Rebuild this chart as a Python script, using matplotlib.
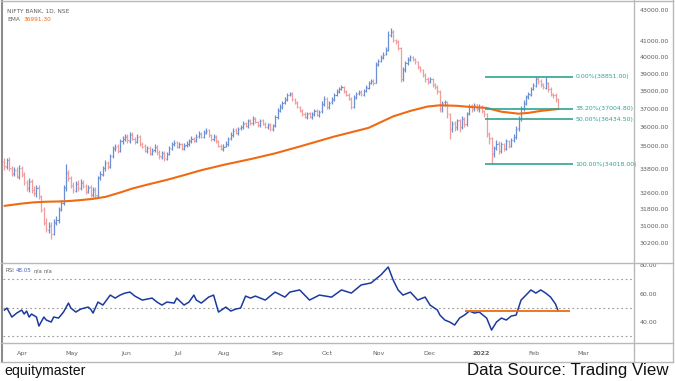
import matplotlib
matplotlib.use("Agg")
import matplotlib.pyplot as plt
from matplotlib.lines import Line2D
from matplotlib.ticker import FixedLocator, NullLocator
import numpy as np

# daily OHLC, NIFTY BANK (bar index 0 = first bar)
opens = [
    34150, 33900, 34250, 33800, 33550, 33750, 33400, 33850, 33500, 33100,
    32800, 33150, 32750, 32560, 32850, 32400, 31800, 31120, 30800, 31050,
    30620, 31180, 31270, 31790, 32080, 32850, 33600, 33300, 32950, 32700,
    33050, 32800, 33100, 32900, 32650, 32850, 32500, 32760, 32450, 33350,
    33500, 33850, 34100, 33900, 34450, 34820, 34980, 34720, 35250, 35350,
    35500, 35250, 35620, 35350, 35200, 35510, 35090, 34980, 34720, 34880,
    34560, 34770, 34930, 34660, 34400, 34620, 34310, 34560, 34830, 35090,
    35180, 34920, 35080, 34830, 35030, 35090, 35250, 35400, 35250, 35510,
    35660, 35450, 35720, 35820, 35560, 35340, 35500, 35240, 34980, 34830,
    34980, 35080, 35400, 35560, 35830, 35660, 35930, 35980, 36200, 36040,
    36370, 36200, 36480, 36260, 36100, 36370, 36160, 35980, 36150, 35880,
    36100, 36530, 36920, 37080, 37360, 37520, 37810, 37870, 37520, 37360,
    37080, 36920, 36740, 36530, 36750, 36530, 36700, 36920, 36640, 36860,
    37250, 37580, 37080, 37360, 37520, 37810, 37980, 38150, 38260, 37980,
    37810, 37580, 37080, 37640, 37870, 37970, 37810, 38040, 38210, 38490,
    38600, 38500, 39540, 39780, 39960, 40200, 40440, 41360, 41610, 41050,
    40980, 40550, 38720, 39250, 39660, 39840, 40020, 39900, 39720, 39430,
    39250, 38960, 38720, 38550, 38720, 38380, 38270, 37980, 36970, 37360,
    37360, 36700, 35870, 36210, 35980, 36370, 35980, 36480, 36150, 36750,
    37190, 36970, 37250, 36970, 37140, 36860, 36700, 35610, 35400, 34560,
    34880, 35140, 34710, 35090, 34820, 35250, 34970, 35300, 35450, 35930,
    36420, 37030, 37300, 37700, 37810, 38150, 38320, 38720, 38610, 38380,
    38210, 38490, 38150, 37810, 37810, 37550,
]
highs = [
    34330, 34350, 34380, 33950, 33900, 33880, 33990, 33950, 33640, 33220,
    33300, 33260, 32900, 32950, 32980, 32500, 31900, 31350, 31200, 31200,
    31330, 31450, 31900, 32250, 32950, 34050, 33750, 33420, 33100, 33180,
    33200, 33250, 33220, 33000, 32960, 32950, 32880, 32850, 33450, 33680,
    33950, 34250, 34200, 34580, 35000, 35100, 35080, 35350, 35520, 35620,
    35600, 35720, 35700, 35450, 35600, 35580, 35200, 35060, 34980, 34960,
    34880, 35100, 35020, 34750, 34700, 34700, 34650, 35000, 35180, 35300,
    35250, 35170, 35150, 35130, 35250, 35330, 35500, 35480, 35600, 35760,
    35740, 35820, 35950, 35900, 35640, 35600, 35580, 35320, 35100, 35060,
    35220, 35480, 35700, 35920, 35920, 36020, 36120, 36300, 36280, 36450,
    36450, 36580, 36560, 36350, 36460, 36440, 36250, 36240, 36220, 36180,
    36680, 37020, 37250, 37450, 37680, 37900, 37980, 37950, 37600, 37430,
    37150, 37000, 36820, 36850, 36830, 36850, 37000, 37000, 36950, 37420,
    37700, 37650, 37450, 37680, 37900, 38150, 38250, 38380, 38330, 38060,
    37900, 37650, 37800, 37980, 38080, 38050, 38120, 38380, 38600, 38700,
    38680, 39700, 39900, 40150, 40320, 40650, 41600, 41830, 41700, 41150,
    41050, 40620, 39400, 39750, 40000, 40150, 40100, 39980, 39800, 39500,
    39320, 39050, 38800, 38800, 38780, 38450, 38350, 38050, 37450, 37500,
    37420, 36780, 36300, 36300, 36450, 36420, 36580, 36560, 36850, 37300,
    37280, 37350, 37300, 37250, 37200, 36950, 36780, 35700, 35450, 35000,
    35300, 35250, 35200, 35150, 35350, 35320, 35400, 35600, 36050, 36600,
    37150, 37480, 37800, 37960, 38250, 38500, 38851, 38800, 38680, 38450,
    38830, 38560, 38230, 37900, 37880, 37620,
]
lows = [
    33750, 33780, 33700, 33450, 33420, 33300, 33280, 33400, 32950, 32700,
    32650, 32600, 32430, 32400, 32300, 31650, 31020, 30700, 30650, 30410,
    30550, 31050, 31150, 31700, 31980, 32700, 33150, 32800, 32600, 32620,
    32700, 32720, 32800, 32550, 32560, 32400, 32380, 32350, 32330, 33200,
    33420, 33700, 33800, 33850, 34350, 34700, 34620, 34650, 35100, 35230,
    35150, 35150, 35280, 35100, 35120, 35000, 34850, 34650, 34620, 34480,
    34480, 34680, 34530, 34300, 34320, 34200, 34230, 34480, 34750, 34980,
    34850, 34850, 34750, 34780, 34950, 35000, 35150, 35180, 35170, 35420,
    35380, 35380, 35620, 35480, 35250, 35250, 35120, 34900, 34750, 34720,
    34900, 35000, 35300, 35480, 35600, 35580, 35820, 35900, 35980, 35950,
    36120, 36120, 36200, 36020, 36000, 36080, 35920, 35900, 35800, 35800,
    36020, 36450, 36850, 37000, 37250, 37450, 37700, 37450, 37250, 37020,
    36800, 36620, 36480, 36450, 36480, 36460, 36620, 36580, 36560, 36780,
    37150, 36980, 37000, 37250, 37450, 37720, 37900, 38050, 37920, 37700,
    37480, 37000, 37020, 37550, 37780, 37750, 37750, 37950, 38150, 38400,
    38380, 38450, 39450, 39700, 39900, 40150, 40400, 41250, 40950, 40800,
    40450, 38520, 38600, 39150, 39550, 39780, 39780, 39600, 39300, 39100,
    38800, 38550, 38400, 38450, 38250, 38100, 37850, 36800, 36850, 37150,
    36500, 35350, 35700, 35800, 35850, 35700, 35900, 36000, 36050, 36650,
    36850, 36900, 36900, 36850, 36750, 36550, 35450, 35100, 34018, 34400,
    34750, 34550, 34600, 34700, 34750, 34850, 34900, 35200, 35350, 35800,
    36350, 36900, 37200, 37550, 37700, 38050, 38250, 38400, 38250, 38100,
    38150, 37950, 37700, 37600, 37400, 36980,
]
closes = [
    33920, 34230, 33820, 33570, 33720, 33420, 33820, 33520, 33070, 32820,
    33120, 32730, 32580, 32820, 32440, 31760, 31150, 30830, 31010, 30640,
    31150, 31290, 31760, 32100, 32820, 33570, 33320, 32920, 32730, 33020,
    32820, 33070, 32920, 32680, 32820, 32530, 32730, 32480, 33320, 33520,
    33820, 34070, 33920, 34430, 34850, 34950, 34740, 35220, 35370, 35480,
    35270, 35590, 35370, 35220, 35480, 35110, 34950, 34740, 34850, 34590,
    34740, 34950, 34640, 34430, 34590, 34330, 34540, 34850, 35060, 35160,
    34950, 35060, 34850, 35000, 35110, 35220, 35370, 35270, 35480, 35640,
    35480, 35690, 35800, 35590, 35370, 35480, 35220, 35000, 34850, 34950,
    35110, 35370, 35590, 35800, 35690, 35900, 36010, 36180, 36070, 36340,
    36230, 36450, 36290, 36120, 36340, 36180, 36010, 36120, 35900, 36070,
    36560, 36890, 37110, 37330, 37550, 37780, 37840, 37550, 37330, 37110,
    36890, 36720, 36560, 36720, 36560, 36720, 36890, 36670, 36830, 37280,
    37550, 37110, 37330, 37550, 37780, 38010, 38120, 38240, 38010, 37780,
    37550, 37110, 37670, 37840, 37950, 37840, 38010, 38240, 38460, 38580,
    38460, 39570, 39750, 39990, 40170, 40470, 41390, 41580, 41080, 40950,
    40590, 38690, 39280, 39630, 39870, 39990, 39870, 39750, 39400, 39280,
    38930, 38690, 38580, 38690, 38410, 38240, 38010, 37000, 37330, 37390,
    36720, 35900, 36180, 36010, 36340, 36010, 36450, 36180, 36720, 37160,
    37000, 37220, 37000, 37110, 36890, 36720, 35640, 35370, 34590, 34850,
    35110, 34740, 35060, 34850, 35220, 35000, 35270, 35480, 35900, 36450,
    37000, 37330, 37670, 37840, 38120, 38350, 38690, 38580, 38410, 38240,
    38460, 38120, 37840, 37780, 37550, 37000,
]

# EMA line (bar index, value)
ema_idx = [0, 7, 12, 17, 21, 24, 27, 31, 36, 41, 47, 52, 59, 66, 73, 80, 90, 100,
           110, 120, 134, 148, 158, 165, 172, 177, 184, 189, 196, 202, 209, 213,
           218, 225]
ema_vals = [31950, 32060, 32120, 32150, 32160, 32170, 32190, 32230, 32290, 32385,
            32600, 32800, 33020, 33230, 33470, 33720, 34020, 34290, 34590, 34950,
            35480, 35950, 36580, 36885, 37130, 37200, 37170, 37110, 37050, 36840,
            36730, 36775, 36885, 36991.30]

# RSI line (bar index, value)
rsi_idx = [0, 1, 3, 5, 7, 8, 9, 10, 11, 13, 14, 16, 17, 19, 20, 22, 24, 26, 27, 29,
           31, 34, 35, 36, 38, 40, 43, 45, 47, 49, 51, 53, 56, 58, 60, 62, 64, 66,
           69, 70, 73, 75, 77, 78, 80, 83, 85, 87, 90, 92, 94, 96, 98, 100, 102,
           106, 110, 114, 116, 120, 124, 128, 133, 137, 141, 145, 149, 153, 156,
           158, 160, 162, 165, 168, 171, 173, 176, 177, 179, 181, 183, 185, 187,
           189, 191, 193, 196, 198, 200, 202, 204, 206, 208, 210, 212, 214, 216,
           218, 220, 222, 224, 225]
rsi_vals = [48.4, 49.8, 43.5, 46.3, 48.4, 45.6, 47.7, 43.5, 45.6, 43.5, 37.2, 43.5,
            41.4, 40.0, 43.5, 42.8, 47.0, 53.3, 49.8, 47.0, 49.1, 50.5, 49.1, 46.3,
            54.0, 51.9, 58.9, 56.8, 58.9, 60.3, 61.0, 58.2, 55.4, 56.1, 56.8, 54.0,
            51.9, 54.0, 53.3, 56.8, 51.9, 54.0, 58.9, 55.4, 53.3, 57.5, 58.9, 47.0,
            50.5, 47.7, 49.1, 49.8, 58.2, 56.8, 58.2, 55.4, 61.0, 57.5, 61.0, 62.5,
            55.4, 58.9, 57.5, 62.5, 60.3, 66.0, 67.4, 73.0, 78.6, 69.5, 62.5, 58.9,
            61.0, 55.4, 57.5, 51.9, 48.4, 44.9, 41.4, 40.0, 37.9, 42.8, 44.9, 47.7,
            46.3, 47.0, 42.8, 34.4, 40.0, 42.8, 41.4, 44.2, 44.9, 55.4, 58.9, 62.5,
            60.3, 62.5, 60.3, 57.5, 52.6, 48.05]

price_ticks = [30200, 31000, 31800, 32600, 33800, 35000, 36000, 37000, 38000,
               39000, 40000, 41000, 43000]
rsi_ticks = [40, 60, 80]
rsi_bands = [30, 50, 70]
month_labels = ["Apr", "May", "Jun", "Jul", "Aug", "Sep", "Oct", "Nov", "Dec",
                "2022", "Feb", "Mar"]
month_pos = [7.3, 27.6, 49.6, 70.5, 89.4, 111.0, 131.3, 152.0, 172.8, 193.9,
             215.4, 235.4]

fib_names = ["0.00%", "38.20%", "50.00%", "100.00%"]
fib_levels = [38851.00, 37004.80, 36434.50, 34018.00]
fib_span = (195.5, 231.0)
rsi_support = 48.0
rsi_support_span = (187.4, 230.0)
ema_last = 36991.30
rsi_last = 48.05

W, H = 675, 381
UP, DOWN = "#6b8fd2", "#f39c9c"
TEAL = "#2fa590"
ORANGE = "#ef6a12"
GREY = "#5d6066"
SMALL = 4.5
TINY = 4.2


def fx(px):
    return px / W


def fy(py):
    return 1 - py / H


def draw_bars(ax):
    x = np.arange(len(closes))
    o, h, l, c = (np.asarray(a, dtype=float) for a in (opens, highs, lows, closes))
    colors = np.where(c >= o, UP, DOWN)
    ax.vlines(x, l, h, colors=colors, lw=0.9)
    ax.hlines(o, x - 0.45, x, colors=colors, lw=0.8)
    ax.hlines(c, x, x + 0.45, colors=colors, lw=0.8)


def label(fig, px, py, text, color=GREY, size=TINY):
    fig.text(fx(px), fy(py), text, fontsize=size, color=color,
             ha="left", va="center")


def main():
    fig = plt.figure(figsize=(W / 100, H / 100), dpi=100)
    fig.patch.set_facecolor("white")

    xlim = (-0.6, 255.5)
    ax = fig.add_axes([fx(3), fy(262), fx(630), 261 / H])
    draw_bars(ax)
    ax.plot(ema_idx, ema_vals, color=ORANGE, lw=1.5, solid_capstyle="round")
    for name, lvl in zip(fib_names, fib_levels):
        ax.hlines(lvl, *fib_span, color=TEAL, lw=1.2)
        ax.text(fib_span[1] + 1.2, lvl, f"{name}({lvl:.2f})", color=TEAL,
                fontsize=SMALL, va="center", ha="left")
    ax.set_yscale("log")
    ax.set_ylim(29348, 43557)
    ax.set_xlim(*xlim)
    ax.yaxis.set_major_locator(FixedLocator(price_ticks))
    ax.yaxis.set_minor_locator(NullLocator())
    ax.set_yticklabels([f"{v:.2f}" for v in price_ticks])
    ax.yaxis.tick_right()
    ax.tick_params(axis="y", length=0, pad=5, labelsize=SMALL, labelcolor=GREY)
    ax.set_xticks([])
    for s in ax.spines.values():
        s.set_visible(False)

    label(fig, 7, 11, "NIFTY BANK, 1D, NSE")
    label(fig, 7, 19.5, "EMA")
    label(fig, 23, 19.5, f"{ema_last:.2f}", color=ORANGE)

    rx = fig.add_axes([fx(3), fy(343), fx(630), 80 / H])
    for b in rsi_bands:
        rx.axhline(b, color="#9a9a9a", lw=0.8, ls=(0, (1.5, 2.5)))
    rx.plot(rsi_idx, rsi_vals, color="#1b3a9e", lw=1.1)
    rx.hlines(rsi_support, *rsi_support_span, color=ORANGE, lw=1.3)
    rx.set_ylim(25.3, 81.4)
    rx.set_xlim(*xlim)
    rx.yaxis.set_major_locator(FixedLocator(rsi_ticks))
    rx.set_yticklabels([f"{v:.2f}" for v in rsi_ticks])
    rx.yaxis.tick_right()
    rx.tick_params(axis="y", length=0, pad=5, labelsize=SMALL, labelcolor=GREY)
    rx.set_xticks(month_pos)
    rx.set_xticklabels(month_labels)
    rx.tick_params(axis="x", length=0, pad=6, labelsize=SMALL, labelcolor=GREY)
    for lab in rx.get_xticklabels():
        if lab.get_text() == "2022":
            lab.set_fontweight("bold")
    for s in rx.spines.values():
        s.set_visible(False)

    label(fig, 6, 271, "RSI", size=4.0)
    label(fig, 16, 271, f"{rsi_last:.2f}", color="#3d5fc4", size=4.0)
    label(fig, 34, 271, "n/a", size=4.0)
    label(fig, 44, 271, "n/a", size=4.0)

    # frame and separators
    frame = "#b9b9b9"
    for xs, ys, c, w in [
        ((1.5, 1.5), (0, 362), "#8c8c8c", 1.5),
        ((673, 673), (0, 362), frame, 1.0),
        ((1, 673), (0.5, 0.5), frame, 1.0),
        ((1, 673), (362, 362), frame, 1.0),
        ((1, 673), (262.5, 262.5), frame, 1.0),
        ((1, 673), (343, 343), frame, 1.0),
        ((633.5, 633.5), (0, 362), frame, 1.0),
    ]:
        fig.add_artist(Line2D([fx(v) for v in xs], [fy(v) for v in ys],
                              color=c, lw=w))

    fig.text(fx(4), fy(371), "equitymaster", fontsize=10.2, color="#111111",
             va="center", ha="left", family="Liberation Sans")
    fig.text(fx(669), fy(371), "Data Source: Trading View", fontsize=12.2,
             color="#111111", va="center", ha="right", family="Liberation Sans")

    fig.savefig("out.png", dpi=100)
    plt.close(fig)


if __name__ == "__main__":
    main()
